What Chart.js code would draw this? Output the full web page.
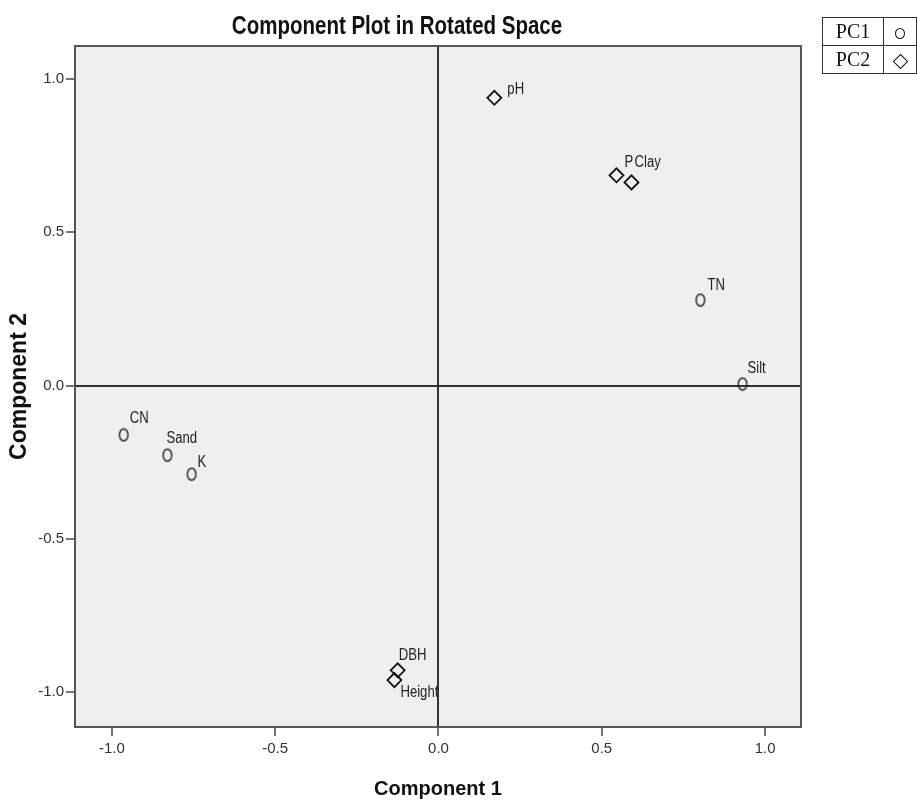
<!DOCTYPE html>
<html>
<head>
<meta charset="utf-8">
<title>Component Plot in Rotated Space</title>
<script src="https://cdn.jsdelivr.net/npm/chart.js@4"></script>
<style>
  html, body { margin: 0; padding: 0; background: #fff; overflow: hidden; }
  #wrap { position: relative; width: 917px; height: 802px; }
  #legend { position: absolute; left: 822px; top: 17px; border-collapse: collapse;
    font-family: 'Liberation Serif', 'Times New Roman', serif; font-size: 20px; color: #111; }
  #legend td { border: 1px solid #333; height: 27px; padding: 0; text-align: center; }
  #legend td.name { width: 65px; }
  #legend td.sym { width: 36px; }
  .circ { display: inline-block; width: 8px; height: 9px; border: 1.5px solid #111; border-radius: 50%; vertical-align: middle; }
  .diam { display: inline-block; width: 9px; height: 9px; border: 1.5px solid #111; transform: rotate(45deg); vertical-align: middle; }
</style>
</head>
<body>
<div id="wrap">
  <canvas id="chart" width="917" height="802"></canvas>
  <table id="legend"></table>
</div>
<script>
const seriesNames = ['PC1', 'PC2'];

const labelsPC1 = ['TN', 'Silt', 'CN', 'Sand', 'K'];
const xPC1 = [0.802, 0.931, -0.964, -0.830, -0.756];
const yPC1 = [0.279, 0.005, -0.161, -0.227, -0.289];

const labelsPC2 = ['pH', 'P', 'Clay', 'DBH', 'Height'];
const xPC2 = [0.171, 0.545, 0.591, -0.125, -0.135];
const yPC2 = [0.939, 0.686, 0.663, -0.929, -0.961];

const xTicks = [-1.0, -0.5, 0.0, 0.5, 1.0];
const yTicks = [-1.0, -0.5, 0.0, 0.5, 1.0];

// where each point label sits relative to its marker (text baseline, left aligned)
const labelOffset = {
  TN: [7, -10], Silt: [5, -11], CN: [6, -12], Sand: [-1, -12], K: [6, -7],
  pH: [13, -4], P: [8, -8], Clay: [3, -15], DBH: [1, -10], Height: [6, 17]
};

const FONT = 'Liberation Sans';
const SQUEEZE = 0.82; // the original text is horizontally condensed

function condensedText(ctx, text, x, y) {
  ctx.save();
  ctx.translate(x, y);
  ctx.scale(SQUEEZE, 1);
  ctx.fillText(text, 0, 0);
  ctx.restore();
}

// legend table
const legend = document.getElementById('legend');
seriesNames.forEach((name, i) => {
  const tr = document.createElement('tr');
  const td1 = document.createElement('td');
  td1.className = 'name';
  td1.textContent = name;
  const td2 = document.createElement('td');
  td2.className = 'sym';
  const s = document.createElement('span');
  s.className = i === 0 ? 'circ' : 'diam';
  td2.appendChild(s);
  tr.appendChild(td1);
  tr.appendChild(td2);
  legend.appendChild(tr);
});

// tall open circle, like the spss marker
const ring = document.createElement('canvas');
ring.width = 12; ring.height = 15;
(function () {
  const c = ring.getContext('2d');
  c.strokeStyle = '#222';
  c.lineWidth = 1.4;
  c.beginPath();
  c.ellipse(6, 7.5, 4.3, 6, 0, 0, Math.PI * 2);
  c.stroke();
})();

const plotBg = {
  id: 'plotBg',
  beforeDraw(chart) {
    const {ctx, chartArea: a} = chart;
    ctx.save();
    ctx.fillStyle = '#efefef';
    ctx.fillRect(a.left, a.top, a.right - a.left, a.bottom - a.top);
    ctx.restore();
  },
  afterDraw(chart) {
    const {ctx, chartArea: a} = chart;
    ctx.save();
    ctx.strokeStyle = '#555';
    ctx.lineWidth = 2;
    ctx.strokeRect(a.left, a.top, a.right - a.left, a.bottom - a.top);
    // title
    ctx.fillStyle = '#111';
    ctx.font = 'bold 25px "' + FONT + '"';
    ctx.textAlign = 'center';
    ctx.textBaseline = 'alphabetic';
    condensedText(ctx, 'Component Plot in Rotated Space', 397, 34);
    ctx.restore();
  }
};

const pointLabels = {
  id: 'pointLabels',
  afterDatasetsDraw(chart) {
    const {ctx} = chart;
    const names = [labelsPC1, labelsPC2];
    ctx.save();
    ctx.font = '16px "' + FONT + '"';
    ctx.fillStyle = '#222';
    ctx.textAlign = 'left';
    ctx.textBaseline = 'alphabetic';
    chart.data.datasets.forEach((ds, i) => {
      chart.getDatasetMeta(i).data.forEach((pt, j) => {
        const name = names[i][j];
        const off = labelOffset[name] || [6, -10];
        condensedText(ctx, name, pt.x + off[0], pt.y + off[1]);
      });
    });
    ctx.restore();
  }
};

const toPoints = (xs, ys) => xs.map((x, i) => ({x: x, y: ys[i]}));

function axis(ticks, min, max, titleText, titleFont, titlePad, size, tickPad) {
  return {
    type: 'linear',
    min: min,
    max: max,
    afterBuildTicks(scale) { scale.ticks = ticks.map(v => ({value: v})); },
    afterFit(scale) {
      if (scale.isHorizontal()) scale.height = size; else scale.width = size;
    },
    border: {display: false},
    grid: {
      drawOnChartArea: true,
      drawTicks: true,
      tickLength: 9,
      tickColor: '#444',
      tickWidth: 1.5,
      color: c => (c.tick && c.tick.value === 0 ? '#333' : 'rgba(0,0,0,0)'),
      lineWidth: c => (c.tick && c.tick.value === 0 ? 2 : 0)
    },
    ticks: {
      padding: tickPad,
      color: '#333',
      font: {family: FONT, size: 15},
      callback: v => v.toFixed(1)
    },
    title: {
      display: true,
      text: titleText,
      color: '#111',
      font: titleFont,
      padding: titlePad
    }
  };
}

Chart.defaults.font.family = FONT;

new Chart(document.getElementById('chart'), {
  type: 'scatter',
  data: {
    datasets: [
      {
        label: seriesNames[0],
        data: toPoints(xPC1, yPC1),
        pointStyle: ring,
        pointRadius: 6,
        borderColor: '#111',
        backgroundColor: 'rgba(0,0,0,0)'
      },
      {
        label: seriesNames[1],
        data: toPoints(xPC2, yPC2),
        pointStyle: 'rectRot',
        pointRadius: 7,
        borderWidth: 1.8,
        borderColor: '#111',
        backgroundColor: 'rgba(0,0,0,0)'
      }
    ]
  },
  options: {
    responsive: false,
    animation: false,
    layout: {padding: {top: 46, right: 116, left: 0, bottom: 0}},
    plugins: {
      legend: {display: false},
      tooltip: {enabled: false},
      title: {display: false}
    },
    scales: {
      x: axis(xTicks, -1.113, 1.110, 'Component 1',
        {family: FONT, size: 20, weight: 'bold', lineHeight: 1}, {top: 0, bottom: 3}, 75, 4),
      y: axis(yTicks, -1.114, 1.108, 'Component 2',
        {family: FONT, size: 23, weight: 'bold', lineHeight: 1.2}, {top: 6, bottom: 0}, 75, 2)
    }
  },
  plugins: [plotBg, pointLabels]
});
</script>
</body>
</html>
